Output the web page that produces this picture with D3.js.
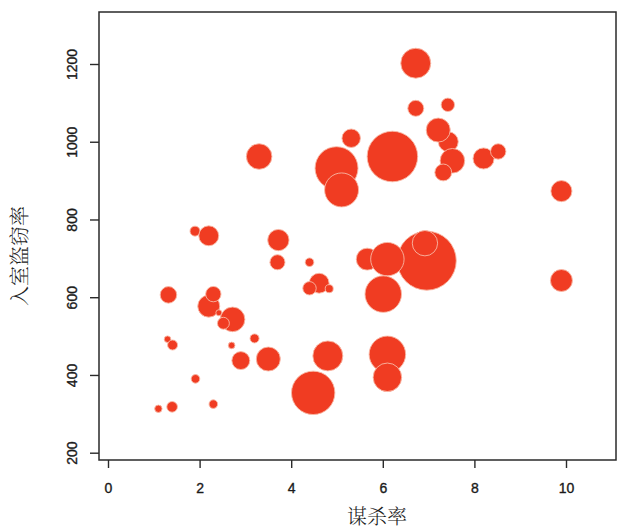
<!DOCTYPE html>
<html><head><meta charset="utf-8">
<script src="https://cdn.jsdelivr.net/npm/d3@7"></script>
<style>
html,body{margin:0;padding:0;background:#fff;}
svg{display:block;}
</style>
</head><body>
<svg id="c" width="619" height="530"></svg>
<script>
// Murder rate (x), burglary rate (y), population in millions (bubble area) — drawing order
const murder   = [6.72, 6.72, 7.42, 7.43, 7.21, 7.52, 7.32, 8.2, 8.52, 9.9,
                  5.31, 6.21, 4.99, 5.1, 3.3, 1.9, 2.2, 3.72, 3.7, 4.4,
                  4.61, 4.4, 4.83, 6.96, 5.66, 6.1, 6.92, 6.01, 1.32, 2.2,
                  2.3, 2.72, 2.52, 2.42, 1.3, 1.41, 2.7, 3.2, 2.9, 3.5,
                  4.8, 4.48, 1.91, 1.1, 1.4, 2.3, 9.9, 6.1, 6.1];
const burglary = [1202, 1086, 1095, 1000, 1030, 951, 921, 957, 975, 873,
                  1009, 962, 932, 876, 962, 770, 758, 747, 690, 690,
                  636, 623, 622, 694, 698, 698, 739, 608, 606, 577,
                  608, 543, 533, 560, 492, 477, 476, 494, 437, 441,
                  449, 354, 390, 313, 318, 325, 643, 453, 394];
const population = [9.5, 2.7, 1.9, 4.2, 6.1, 6.4, 3.0, 4.7, 2.5, 4.7,
                    3.6, 27, 19.5, 12.2, 6.9, 1.06, 4.2, 4.8, 2.4, 0.78,
                    4.2, 1.9, 0.68, 36.8, 5.1, 11.8, 6.8, 14.1, 2.9, 5.1,
                    2.5, 6.4, 1.5, 0.38, 0.46, 1.06, 0.46, 0.86, 3.4, 6.1,
                    9.5, 19.9, 0.78, 0.58, 1.2, 0.78, 5.1, 14.1, 8.6];
const xTicks = [0, 2, 4, 6, 8, 10];
const yTicks = [200, 400, 600, 800, 1000, 1200];
const xTitle = "谋杀率";
const yTitle = "入室盗窃率";

const svg = d3.select("#c");
const box = {left: 99, top: 12, right: 616, bottom: 460};

const x = d3.scaleLinear().domain([0, 10]).range([108, 566]);
const y = d3.scaleLinear().domain([200, 1200]).range([452.7, 64]);
const r = d3.scaleSqrt().domain([0, 36.8]).range([0, 29.5]);

const data = murder.map((m, i) => ({m, b: burglary[i], p: population[i]}));

// bubbles
svg.append("g").selectAll("circle").data(data).join("circle")
  .attr("cx", d => x(d.m))
  .attr("cy", d => y(d.b))
  .attr("r", d => r(d.p))
  .attr("fill", "#f03c22")
  .attr("stroke", "#f8b9a6")
  .attr("stroke-width", 0.9);

// box
svg.append("rect")
  .attr("x", box.left).attr("y", box.top)
  .attr("width", box.right - box.left).attr("height", box.bottom - box.top)
  .attr("fill", "none").attr("stroke", "#2a2a2a").attr("stroke-width", 1.5);

const font = "'Liberation Sans', Arial, Helvetica, sans-serif";

// x axis
const gx = svg.append("g").attr("transform", `translate(0,${box.bottom})`)
  .call(d3.axisBottom(x).tickValues(xTicks).tickSize(8).tickFormat(d3.format("d")));
gx.select(".domain").remove();
gx.selectAll(".tick line").attr("stroke", "#2a2a2a").attr("stroke-width", 1.4);
gx.selectAll(".tick text").attr("y", 33).attr("dy", 0)
  .attr("fill", "#1a1a1a").attr("stroke", "#1a1a1a").attr("stroke-width", 0.35)
  .style("font-family", font).style("font-size", "14px");

// y axis
const gy = svg.append("g").attr("transform", `translate(${box.left},0)`)
  .call(d3.axisLeft(y).tickValues(yTicks).tickSize(9).tickFormat(d3.format("d")));
gy.select(".domain").remove();
gy.selectAll(".tick line").attr("stroke", "#2a2a2a").attr("stroke-width", 1.4);
gy.selectAll(".tick text")
  .attr("transform", "rotate(-90)")
  .attr("x", 0).attr("y", -22).attr("dy", 0)
  .attr("text-anchor", "middle")
  .attr("fill", "#1a1a1a").attr("stroke", "#1a1a1a").attr("stroke-width", 0.35)
  .style("font-family", font).style("font-size", "14px");

// titles
const cjk = "'Noto Serif CJK SC', 'Noto Sans CJK SC', sans-serif";
svg.append("text")
  .attr("x", 377).attr("y", 524)
  .attr("text-anchor", "middle")
  .attr("fill", "#222")
  .style("font-family", cjk).style("font-size", "20px").style("font-weight", 300)
  .text(xTitle);
svg.append("text")
  .attr("transform", "translate(27,256) rotate(-90)")
  .attr("text-anchor", "middle")
  .attr("fill", "#222")
  .style("font-family", cjk).style("font-size", "20px").style("font-weight", 300)
  .text(yTitle);
</script>
</body></html>
